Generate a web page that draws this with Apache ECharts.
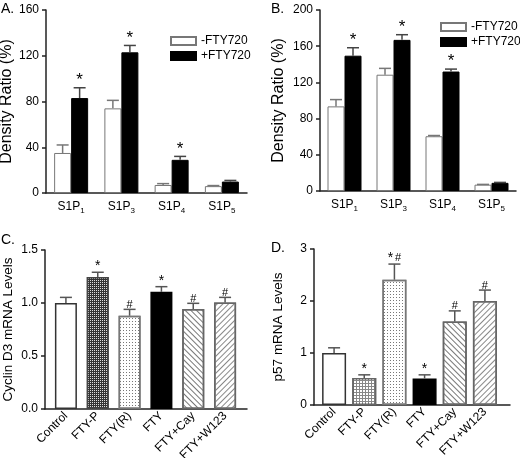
<!DOCTYPE html>
<html><head><meta charset="utf-8">
<script src="https://cdn.jsdelivr.net/npm/echarts@6/dist/echarts.min.js"></script>
<style>html,body{margin:0;padding:0;background:#fff}#c{width:520px;height:458px}</style>
</head><body><div id="c"></div>
<script>
// ---------- data ----------
const abCategories = ['S1P1', 'S1P3', 'S1P4', 'S1P5'];
const seriesNames = ['-FTY720', '+FTY720'];
// Panel A
const aMinus = [35, 74, 7, 6];
const aMinusTop = [42, 81, 8.2, 6.5];
const aPlus = [83, 123, 29, 10];
const aPlusTop = [92, 129, 32, 11];
const aPlusSig = ['*', '*', '*', ''];
// Panel B
const bMinus = [93.5, 128.5, 60.5, 7];
const bMinusTop = [101, 135.5, 61.3, 7.3];
const bPlus = [149.5, 167, 132, 9];
const bPlusTop = [158.3, 172.7, 134.7, 9.5];
const bPlusSig = ['*', '*', '*', ''];
// Panels C and D
const cdCategories = ['Control', 'FTY-P', 'FTY(R)', 'FTY', 'FTY+Cay', 'FTY+W123'];
const cValues = [1.0, 1.245, 0.88, 1.105, 0.943, 1.005];
const cTop = [1.053, 1.29, 0.94, 1.154, 0.997, 1.053];
const cSig = ['', '*', '#', '*', '#', '#'];
const dValues = [1.0, 0.52, 2.41, 0.51, 1.605, 2.0];
const dTop = [1.1, 0.58, 2.71, 0.58, 1.81, 2.21];
const dSig = ['', '*', '*#', '*', '#', '#'];

// ---------- styles ----------
const FONT = 'Liberation Sans, Arial, Helvetica, sans-serif';
const AX = { lineStyle: { color: '#222', width: 1.5 } };

function patternStyles(kind) {
  return [
    { color: '#fff', borderColor: '#333', borderWidth: 1.5 },
    kind === 'C'
      ? { color: '#333', borderColor: '#444', borderWidth: 1.5,
          decal: { symbol: 'rect', symbolSize: 1, dashArrayX: [1, 1], dashArrayY: [1, 1], color: '#ddd' } }
      : { color: '#888', borderColor: '#666', borderWidth: 1.5,
          decal: { symbol: 'rect', symbolSize: 1, dashArrayX: [2, 1], dashArrayY: [2, 1], color: '#fff' } },
    { color: '#fff', borderColor: '#777', borderWidth: 1.5,
      decal: { symbol: 'rect', symbolSize: 1, dashArrayX: [1, 2], dashArrayY: [1, 2], color: '#777' } },
    { color: '#000', borderColor: '#000', borderWidth: 1.5 },
    { color: '#fff', borderColor: '#666', borderWidth: 1.5,
      decal: { symbol: 'rect', symbolSize: 1, dashArrayX: [1, 0], dashArrayY: [1, 2.5], rotation: Math.PI / 4, color: '#777' } },
    { color: '#fff', borderColor: '#666', borderWidth: 1.5,
      decal: { symbol: 'rect', symbolSize: 1, dashArrayX: [1, 0], dashArrayY: [1, 3], rotation: -Math.PI / 4, color: '#888' } }
  ];
}

function sigRich(s) {
  return s.split('').map(ch => ch === '*' ? '{st|*}' : '{hs|#}').join('');
}

function errSeries(ai, vals, tops, sigs, offset, color, starSize, hashSize) {
  return {
    type: 'custom', xAxisIndex: ai, yAxisIndex: ai, z: 5, silent: true,
    data: vals.map((v, i) => [i, v, tops[i]]),
    renderItem: function (params, api) {
      const i = api.value(0);
      const p0 = api.coord([i, api.value(1)]);
      const p1 = api.coord([i, api.value(2)]);
      const x = p0[0] + offset;
      const ch = [
        { type: 'line', shape: { x1: x, y1: p0[1], x2: x, y2: p1[1] }, style: { stroke: color, lineWidth: 1.5 } },
        { type: 'line', shape: { x1: x - 6, y1: p1[1], x2: x + 6, y2: p1[1] }, style: { stroke: color, lineWidth: 1.5 } }
      ];
      const s = sigs ? sigs[params.dataIndex] : '';
      if (s) {
        ch.push({ type: 'text', x: x, y: p1[1] + 1,
          style: { text: sigRich(s), align: 'center', verticalAlign: 'bottom',
            rich: { st: { fontSize: starSize, fontFamily: FONT, fill: '#000', padding: [0, 1, 0, 1] },
                    hs: { fontSize: hashSize, fontFamily: FONT, fill: '#000', padding: [0, 1, 0, 1] } } } });
      }
      return { type: 'group', children: ch };
    }
  };
}

function valueY(gi, max, interval, name, nameGap, nameSize, offset, fmt) {
  return {
    gridIndex: gi, type: 'value', min: 0, max: max, interval: interval, offset: offset || 0,
    name: name, nameLocation: 'middle', nameGap: nameGap,
    nameTextStyle: { fontSize: nameSize, color: '#000', fontFamily: FONT },
    axisLine: { show: true, ...AX },
    axisTick: { show: true, length: 4, inside: false, ...AX },
    axisLabel: { fontSize: 12, color: '#000', fontFamily: FONT, margin: 7, formatter: fmt },
    splitLine: { show: false }
  };
}

const subRich = {
  b: { fontSize: 12, color: '#000', fontFamily: FONT, lineHeight: 14 },
  s: { fontSize: 8, color: '#000', fontFamily: FONT, padding: [7, 0, 0, 0], lineHeight: 10 }
};
function abX(gi) {
  return {
    gridIndex: gi, type: 'category', data: abCategories,
    axisLine: { show: true, ...AX }, axisTick: { show: false },
    axisLabel: { margin: 7, interval: 0, hideOverlap: false, rich: subRich,
      formatter: v => '{b|' + v.slice(0, 3) + '}{s|' + v.slice(3) + '}' }
  };
}
function cdX(gi) {
  return {
    gridIndex: gi, type: 'category', data: cdCategories,
    axisLine: { show: false }, axisTick: { show: false },
    axisLabel: { rotate: 45, fontSize: 12, color: '#000', fontFamily: FONT, margin: 5, interval: 0 }
  };
}
function lineOnlyX(gi) {
  return { gridIndex: gi, type: 'value', min: 0, max: 1, axisLine: { show: true, onZero: false, ...AX },
    axisTick: { show: false }, axisLabel: { show: false }, splitLine: { show: false } };
}

const chart = echarts.init(document.getElementById('c'), null, { renderer: 'canvas' });
const g = o => Object.assign({ outerBoundsMode: 'none', containLabel: false }, o);
const legendCommon = {
  orient: 'vertical', icon: 'rect', itemWidth: 25, itemHeight: 8, itemGap: 3, selectedMode: false,
  textStyle: { fontSize: 12, color: '#000', fontFamily: FONT }, data: seriesNames
};
const stylesC = patternStyles('C');
const stylesD = patternStyles('D');

chart.setOption({
  animation: false,
  backgroundColor: '#fff',
  title: [
    { text: 'A.', left: -4, top: -3, textStyle: { fontSize: 14, fontWeight: 'normal', color: '#000', fontFamily: FONT } },
    { text: 'B.', left: 266, top: -3, textStyle: { fontSize: 14, fontWeight: 'normal', color: '#000', fontFamily: FONT } },
    { text: 'C.', left: -4, top: 228, textStyle: { fontSize: 14, fontWeight: 'normal', color: '#000', fontFamily: FONT } },
    { text: 'D.', left: 266, top: 236, textStyle: { fontSize: 14, fontWeight: 'normal', color: '#000', fontFamily: FONT } }
  ],
  legend: [
    Object.assign({ left: 165, top: 30 }, legendCommon),
    Object.assign({ left: 435, top: 16 }, legendCommon)
  ],
  grid: [
    g({ left: 46, top: 10, width: 201, height: 183 }),
    g({ left: 320, top: 10, width: 196, height: 181 }),
    g({ left: 50, top: 250, width: 191, height: 159 }),
    g({ left: 319, top: 249, width: 181, height: 156 }),
    g({ left: 45, top: 250, width: 202, height: 159 }),
    g({ left: 314, top: 249, width: 196, height: 156 })
  ],
  xAxis: [abX(0), abX(1), cdX(2), cdX(3), lineOnlyX(4), lineOnlyX(5)],
  yAxis: [
    valueY(0, 160, 40, 'Density Ratio (%)', 29, 16),
    valueY(1, 200, 40, 'Density Ratio (%)', 33, 16),
    valueY(2, 1.5, 0.5, 'Cyclin D3 mRNA Levels', 30, 13.5, 5, v => v.toFixed(1)),
    valueY(3, 3, 1, 'p57 mRNA Levels', 29, 13.5, 5),
    { gridIndex: 4, show: false, min: 0, max: 1 },
    { gridIndex: 5, show: false, min: 0, max: 1 }
  ],
  series: [
    { name: seriesNames[0], type: 'bar', xAxisIndex: 0, yAxisIndex: 0, data: aMinus, barWidth: 17, barGap: '0%',
      itemStyle: { color: '#fff', borderColor: '#777', borderWidth: 1 } },
    { name: seriesNames[1], type: 'bar', xAxisIndex: 0, yAxisIndex: 0, data: aPlus, barWidth: 17, barGap: '0%',
      itemStyle: { color: '#000', borderColor: '#000', borderWidth: 1 } },
    errSeries(0, aMinus, aMinusTop, null, -8.5, '#777', 17, 11),
    errSeries(0, aPlus, aPlusTop, aPlusSig, 8.5, '#444', 17, 11),
    { name: seriesNames[0], type: 'bar', xAxisIndex: 1, yAxisIndex: 1, data: bMinus, barWidth: 17, barGap: '0%',
      itemStyle: { color: '#fff', borderColor: '#777', borderWidth: 1 } },
    { name: seriesNames[1], type: 'bar', xAxisIndex: 1, yAxisIndex: 1, data: bPlus, barWidth: 17, barGap: '0%',
      itemStyle: { color: '#000', borderColor: '#000', borderWidth: 1 } },
    errSeries(1, bMinus, bMinusTop, null, -8.5, '#777', 17, 11),
    errSeries(1, bPlus, bPlusTop, bPlusSig, 8.5, '#444', 17, 11),
    { type: 'bar', xAxisIndex: 2, yAxisIndex: 2, barWidth: 22,
      data: cValues.map((v, i) => ({ value: v, itemStyle: stylesC[i] })) },
    errSeries(2, cValues, cTop, cSig, 0, '#555', 14, 11),
    { type: 'bar', xAxisIndex: 3, yAxisIndex: 3, barWidth: 24,
      data: dValues.map((v, i) => ({ value: v, itemStyle: stylesD[i] })) },
    errSeries(3, dValues, dTop, dSig, 0, '#555', 14, 11)
  ]
});
</script></body></html>
